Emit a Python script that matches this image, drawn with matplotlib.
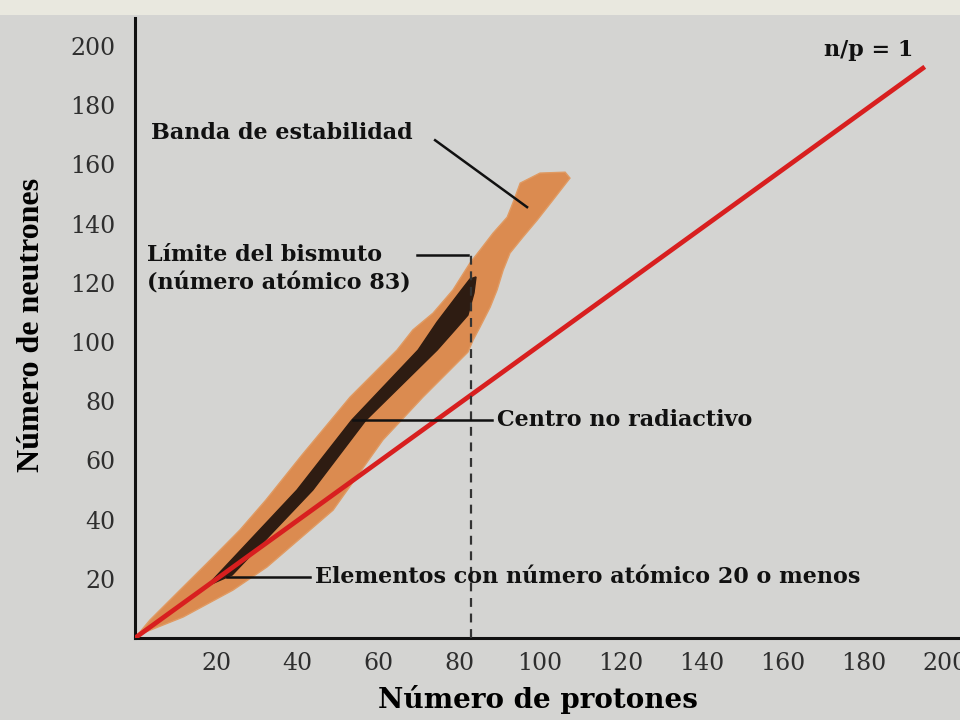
import matplotlib.pyplot as plt
from matplotlib.patches import Polygon, Rectangle

# band of stability outline (protons, neutrons)
band_z = [0, 3.7, 11.1, 17.8, 25.9, 32.3, 41.2, 53.1, 64.7, 68.6, 73.6, 78.5, 82.7,
          85.2, 88.4, 91.9, 93.3, 95.1, 100.0, 106.2, 107.4, 103.2, 99.3, 95.8,
          92.6, 90.9, 89.4, 87.7, 85.2, 83.5, 82.2, 71.1, 61.2, 48.9, 32.6, 24.2,
          11.9, 2.0]
band_n = [0, 6.1, 16.2, 25.3, 36.5, 46.6, 61.8, 81.4, 97.3, 104.1, 109.8, 117.6,
          126.7, 131.1, 136.8, 142.2, 147.0, 153.7, 157.1, 157.4, 155.4, 148.0,
          141.2, 135.5, 130.1, 124.3, 117.6, 111.8, 105.1, 100.7, 96.6, 81.4, 66.9,
          43.2, 24.0, 16.2, 7.1, 1.7]

# non-radioactive core
core_z = [17.8, 24.0, 43.9, 57.0, 74.6, 79.0, 82.2, 83.7, 84.2, 82.7, 80.6, 74.6,
          69.9, 53.5, 40.0, 21.5]
core_n = [17.6, 21.3, 50.0, 73.6, 97.3, 104.1, 109.1, 116.6, 122.0, 121.3, 117.6,
          106.8, 97.3, 73.6, 50.0, 23.0]

# n/p = 1 line
ratio_z = [0, 195]
ratio_n = [0, 193]

bismuth_z = 83
bismuth_top = 131

ticks = [20, 40, 60, 80, 100, 120, 140, 160, 180, 200]

fig = plt.figure(figsize=(9.6, 7.2), dpi=100)
fig.patch.set_facecolor("#d4d4d2")
fig.patches.append(Rectangle((0, 1 - 15 / 720), 1, 15 / 720, transform=fig.transFigure,
                             facecolor="#e9e8df", edgecolor="none", zorder=0))

ax = fig.add_axes([135 / 960, 82 / 720, 825 / 960, 620 / 720])
ax.set_facecolor("#d4d4d2")
ax.set_xlim(0, 203.7)
ax.set_ylim(0, 209.5)

ax.add_patch(Polygon(list(zip(band_z, band_n)), closed=True, facecolor="#db8b50",
                     edgecolor="#e09a62", lw=1, zorder=2))
ax.add_patch(Polygon(list(zip(core_z, core_n)), closed=True, facecolor="#2e1c12",
                     edgecolor="#2e1c12", lw=1, zorder=3))
ax.plot(ratio_z, ratio_n, color="#d81f1f", lw=3.4, solid_capstyle="butt", zorder=4)
ax.plot([bismuth_z, bismuth_z], [0, bismuth_top], color="#333333", lw=1.6,
        linestyle=(0, (4, 3)), zorder=5)

for s in ["top", "right"]:
    ax.spines[s].set_visible(False)
for s in ["left", "bottom"]:
    ax.spines[s].set_linewidth(2.2)
    ax.spines[s].set_color("#111111")

ax.set_xticks(ticks)
ax.set_yticks(ticks)
ax.tick_params(length=0, labelsize=17, labelcolor="#2e2e2e")
ax.tick_params(axis="x", pad=10)
ax.tick_params(axis="y", pad=14)
for lab in ax.get_xticklabels() + ax.get_yticklabels():
    lab.set_family("DejaVu Serif")

ax.set_xlabel("Número de protones", family="DejaVu Serif", fontweight="bold",
              fontsize=20)
ax.xaxis.set_label_coords(0.489, -0.075)
ax.set_ylabel("Número de neutrones", family="Liberation Serif", fontweight="bold",
              fontsize=23)
ax.yaxis.set_label_coords(-0.108, 0.505)

note = dict(family="DejaVu Serif", fontweight="bold", fontsize=16, color="#111111",
            va="center", zorder=6)
lead = dict(color="#111111", lw=1.8, zorder=6)

ax.text(4, 170.5, "Banda de estabilidad", ha="left", **note)
ax.plot([74.1, 96.8], [168.2, 145.6], **lead)

ax.text(3, 129.4, "Límite del bismuto", ha="left", **note)
ax.text(3, 119.8, "(número atómico 83)", ha="left", **note)
ax.plot([69.6, 82.2], [129.4, 129.4], **lead)

ax.text(89.4, 73.6, "Centro no radiactivo", ha="left", **note)
ax.plot([53.8, 88.1], [73.6, 73.6], **lead)

ax.text(44.4, 20.6, "Elementos con número atómico 20 o menos", ha="left", **note)
ax.plot([22.7, 43.2], [20.6, 20.6], **lead)

ax.text(181.2, 198.6, "n/p = 1", ha="center", **note)

plt.savefig("out.png", dpi=100, facecolor=fig.get_facecolor())
